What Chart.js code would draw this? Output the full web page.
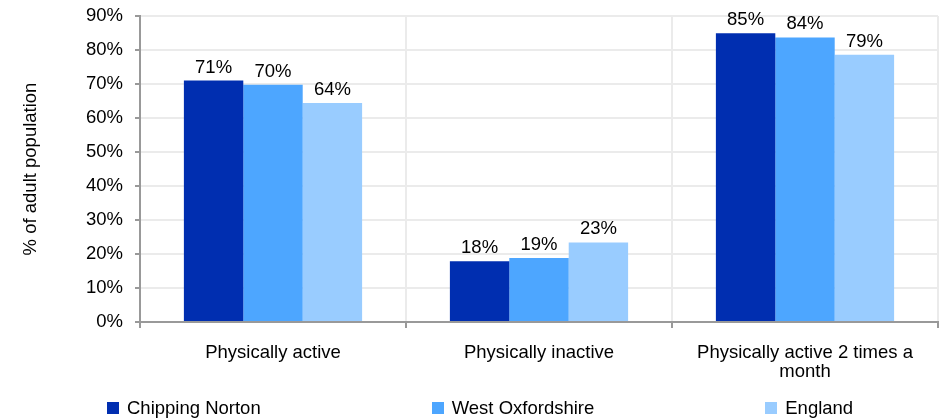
<!DOCTYPE html>
<html>
<head>
<meta charset="utf-8">
<script src="https://cdn.jsdelivr.net/npm/chart.js@4/dist/chart.umd.min.js"></script>
<style>
  html, body { margin: 0; padding: 0; background: #fff; }
  #wrap { position: relative; width: 941px; height: 419px; }
  #legend {
    position: absolute; left: 107px; top: 397px;
    display: flex; gap: 171px; line-height: 20px;
    font: 18.5px "Liberation Sans", Arial, sans-serif; color: #000;
  }
  #legend span.item { display: flex; align-items: center; white-space: nowrap; }
  #legend i { display: inline-block; width: 12px; height: 12px; margin-right: 8px; }
</style>
</head>
<body>
<div id="wrap">
  <canvas id="chart" width="941" height="419"></canvas>
  <div id="legend"></div>
</div>
<script>
// ===== Data =====
const categories = [
  'Physically active',
  'Physically inactive',
  ['Physically active 2 times a', 'month']
];
const seriesNames = ['Chipping Norton', 'West Oxfordshire', 'England'];
const chippingNorton = [71.0, 17.9, 84.9];
const westOxfordshire = [69.8, 18.8, 83.7];
const england = [64.4, 23.4, 78.6];
const seriesColors = ['#002EB0', '#4DA6FF', '#99CCFF'];
const yTicks = [0, 10, 20, 30, 40, 50, 60, 70, 80, 90];

const FONT = '"Liberation Sans", Arial, sans-serif';
Chart.defaults.font.family = FONT;
Chart.defaults.font.size = 18.5;
Chart.defaults.color = '#000';

// Value labels above bars
const barLabels = {
  id: 'barLabels',
  afterDatasetsDraw(chart) {
    const ctx = chart.ctx;
    ctx.save();
    ctx.font = '18.5px ' + FONT;
    ctx.fillStyle = '#000';
    ctx.textAlign = 'center';
    ctx.textBaseline = 'alphabetic';
    chart.data.datasets.forEach((ds, i) => {
      chart.getDatasetMeta(i).data.forEach((bar, j) => {
        ctx.fillText(Math.round(ds.data[j]) + '%', bar.x, bar.y - 8);
      });
    });
    ctx.restore();
  }
};

const allSeries = [chippingNorton, westOxfordshire, england];

const chart = new Chart(document.getElementById('chart'), {
  type: 'bar',
  data: {
    labels: categories,
    datasets: allSeries.map((d, i) => ({
      label: seriesNames[i],
      data: d,
      backgroundColor: seriesColors[i],
      borderWidth: 0,
      barPercentage: 1,
      categoryPercentage: 0.67
    }))
  },
  options: {
    responsive: false,
    animation: false,
    layout: { padding: { top: 0, right: 3, bottom: 22, left: 0 } },
    plugins: {
      legend: { display: false },
      tooltip: { enabled: false }
    },
    scales: {
      x: {
        grid: {
          offset: true,
          color: '#ebebeb',
          lineWidth: 2,
          tickColor: '#999',
          tickLength: 6
        },
        border: { color: '#999', width: 2 },
        ticks: { padding: 16, maxRotation: 0, color: '#000', font: { lineHeight: 1.0 } }
      },
      y: {
        min: 0,
        max: 90,
        afterFit: s => { s.width = 140; s.paddingTop = 16; s.paddingBottom = 0; },
        afterBuildTicks: s => { s.ticks = yTicks.map(v => ({ value: v })); },
        grid: { color: '#ebebeb', lineWidth: 2, tickColor: '#999', tickLength: 5 },
        border: { color: '#999', width: 2 },
        ticks: {
          padding: 12,
          color: '#000',
          callback: v => v + '%'
        },
        title: {
          display: true,
          text: '% of adult population',
          color: '#000',
          padding: { top: 20, bottom: 0 }
        }
      }
    }
  },
  plugins: [barLabels]
});

// ===== Legend =====
const legend = document.getElementById('legend');
seriesNames.forEach((name, i) => {
  const item = document.createElement('span');
  item.className = 'item';
  item.innerHTML = `<i style="background:${seriesColors[i]}"></i>${name}`;
  legend.appendChild(item);
});
</script>
</body>
</html>
